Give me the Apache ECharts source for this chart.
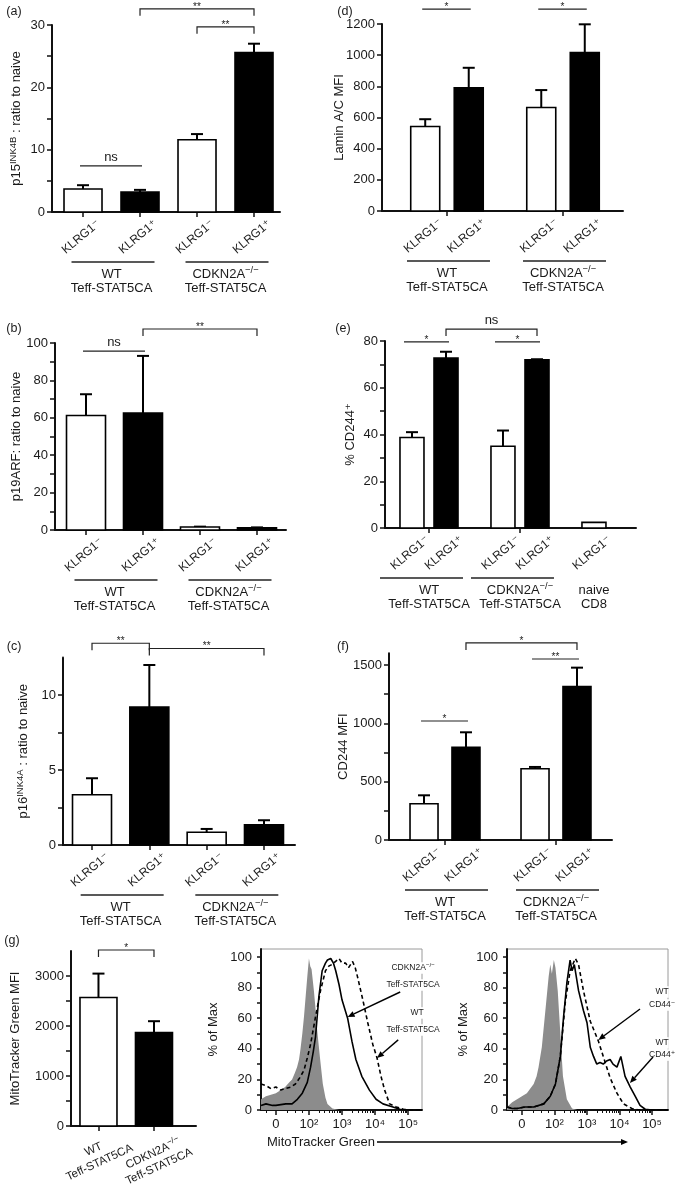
<!DOCTYPE html>
<html><head><meta charset="utf-8">
<script src="https://cdn.jsdelivr.net/npm/echarts@6/dist/echarts.min.js"></script>
<style>html,body{margin:0;padding:0;background:#fff}#c{width:681px;height:1197px}</style>
</head><body><div id="c"></div><script>
const FONT = '"Liberation Sans", Arial, "DejaVu Sans", sans-serif';
const INK = '#1a1a1a';

// ---------------- data ----------------
const klrgLabels = ['KLRG1⁻', 'KLRG1⁺'];
const wtLabel = 'WT';
const cdknLabel = '{t|CDKN2A}{s|−/−}';
const strainLabel = 'Teff-STAT5CA';
const naiveLabels = ['naive', 'CD8'];

const p15Mean = [3.7, 3.2, 11.6, 25.6];
const p15Err  = [0.6, 0.35, 0.9, 1.4];
const p19Mean = [61.2, 62.6, 1.6, 1.2];
const p19Err  = [11.4, 30.5, 0.2, 0.2];
const p16Mean = [3.35, 9.2, 0.85, 1.35];
const p16Err  = [1.1, 2.8, 0.22, 0.3];
const laminMean = [542, 791, 664, 1016];
const laminErr  = [47, 128, 112, 182];
const cd244PctMean = [38.7, 72.7, 35.0, 72.0, 2.4];
const cd244PctErr  = [2.3, 2.7, 6.7, 0.2, 0];
const cd244MfiMean = [311, 794, 611, 1314];
const cd244MfiErr  = [72, 129, 15, 163];
const mitoMean = [2569, 1870];
const mitoErr  = [479, 226];

const ticksP15 = [0, 10, 20, 30];
const ticksP19 = [0, 20, 40, 60, 80, 100];
const ticksP16 = [0, 5, 10];
const ticksLamin = [0, 200, 400, 600, 800, 1000, 1200];
const ticksPct = [0, 20, 40, 60, 80];
const ticksMfi = [0, 500, 1000, 1500];
const ticksMito = [0, 1000, 2000, 3000];
const histYTicks = [0, 20, 40, 60, 80, 100];
const histXTickLabels = ['0', '10²', '10³', '10⁴', '10⁵'];

// significance annotations: bar indices, height in data units, label, with/without legs
const sigP15 = [{from:0,to:1,y:7.4,text:'ns',legs:false},{from:2,to:3,y:29.7,text:'**',legs:true},{from:1,to:3,y:32.6,text:'**',legs:true}];
const sigP19 = [{from:0,to:1,y:95.7,text:'ns',legs:false},{from:1,to:3,y:107.5,text:'**',legs:true}];
const sigP16 = [{from:0,to:1,y:13.45,text:'**',legs:true},{from:1,to:3,y:13.1,text:'**',legs:true}];
const sigLamin = [{from:0,to:1,y:1296,text:'*',legs:false},{from:2,to:3,y:1296,text:'*',legs:false}];
const sigPct = [{from:0,to:1,y:79.6,text:'*',legs:false},{from:2,to:3,y:79.6,text:'*',legs:false},{from:1,to:3,y:85.1,text:'ns',legs:true}];
const sigMfi = [{from:0,to:1,y:1020,text:'*',legs:false},{from:2,to:3,y:1551,text:'**',legs:false},{from:1,to:3,y:1689,text:'*',legs:true}];
const sigMito = [{from:0,to:1,y:3520,text:'*',legs:true}];

// flow histograms (x in display decades: 0 -> "0", 1 -> 10^2, 2 -> 10^3 ...; y = % of max)
const h1Control = [[-0.45,7],[-0.3,9],[-0.15,10],[0,11],[0.15,13],[0.28,15],[0.4,18],[0.49,20],[0.57,24],[0.64,28],[0.7,33],[0.74,39],[0.8,50],[0.85,61],[0.9,74],[0.95,87],[1.0,99],[1.04,94],[1.08,92],[1.15,78],[1.2,66],[1.25,52],[1.33,35],[1.42,17],[1.5,8],[1.56,4],[1.71,1],[1.91,0],[4.42,0]];
const h1Cdkn = [[-0.45,3],[-0.3,4],[-0.1,3],[0,3],[0.3,4],[0.49,4],[0.65,7],[0.8,11],[0.95,18],[1.05,28],[1.13,38],[1.2,48],[1.3,74],[1.4,91],[1.5,96],[1.56,98],[1.66,99],[1.74,96],[1.81,91],[1.91,82],[2.0,72],[2.17,60],[2.3,45],[2.42,33],[2.6,22],[2.83,13],[3.03,7],[3.24,4],[3.54,2],[3.75,0.5],[4.0,0],[4.42,0]];
const h1Wt = [[-0.45,17],[-0.3,16],[-0.15,14],[0,15],[0.15,13],[0.28,14],[0.45,15],[0.59,17],[0.72,21],[0.85,26],[0.95,34],[1.05,43],[1.2,61],[1.35,78],[1.5,91],[1.6,94],[1.69,95],[1.8,97],[1.91,99],[2.0,96],[2.11,96],[2.2,93],[2.32,97],[2.4,93],[2.47,87],[2.63,72],[2.78,57],[2.93,43],[3.06,34],[3.18,22],[3.29,13],[3.44,4],[3.64,2],[3.85,0.5],[4.1,0],[4.42,0]];
const h2Control = [[-0.46,2],[-0.3,5],[-0.15,7],[0,9],[0.15,11],[0.36,17],[0.45,22],[0.51,28],[0.61,41],[0.72,65],[0.82,87],[0.87,95],[0.92,89],[0.98,98],[1.03,93],[1.1,78],[1.18,50],[1.26,22],[1.38,7],[1.54,1],[1.7,0],[4.49,0]];
const h2Cd44Pos = [[-0.46,2],[-0.3,1],[-0.15,1],[0.1,2],[0.36,2],[0.67,4],[0.87,9],[1.03,17],[1.18,35],[1.28,61],[1.38,83],[1.48,98],[1.54,91],[1.61,95],[1.74,78],[1.89,65],[2.0,57],[2.1,41],[2.2,35],[2.3,30],[2.4,31],[2.5,30],[2.6,32],[2.71,33],[2.8,30],[2.92,28],[3.04,35],[3.17,22],[3.33,15],[3.48,9],[3.63,3],[3.79,0.5],[4.0,0],[4.49,0]];
const h2Cd44Neg = [[-0.46,2],[-0.3,1],[-0.15,1],[0.1,2],[0.36,2],[0.67,4],[0.87,9],[1.03,17],[1.18,35],[1.33,70],[1.48,91],[1.64,99],[1.74,95],[1.89,78],[2.1,58],[2.35,45],[2.5,35],[2.71,21],[2.92,11],[3.12,4],[3.38,1],[3.6,0],[4.49,0]];

// ---------------- layout ----------------
const flatGroups = [{bars:[0,1], text:[wtLabel, strainLabel]}, {bars:[2,3], text:[cdknLabel, strainLabel]}];
const pctGroups = [{bars:[0,1], text:[wtLabel, strainLabel]}, {bars:[2,3], text:[cdknLabel, strainLabel]}, {bars:[4], text:naiveLabels, line:false}];

const panels = [
  {letter:'(a)', lp:[14,12], rect:[52,25,228,187], x:[-0.544,3.456], yMax:30, ticks:ticksP15, minor:true, mean:p15Mean, err:p15Err, grouped:false, bw:38,
   name:'{t|p15}{s|INK4B}{t| : ratio to naive}', nameCenter:18, sig:sigP15, groups:flatGroups},
  {letter:'(b)', lp:[14,329], rect:[55,343,231,187], x:[-0.544,3.509], yMax:100, ticks:ticksP19, minor:true, mean:p19Mean, err:p19Err, grouped:false, bw:39,
   name:'p19ARF: ratio to naive', nameCenter:16, sig:sigP19, groups:flatGroups},
  {letter:'(c)', lp:[14,647], rect:[63,657.5,232,187.5], x:[-0.506,3.541], yMax:12.5, ticks:ticksP16, minor:true, mean:p16Mean, err:p16Err, grouped:false, bw:39,
   name:'{t|p16}{s|INK4A}{t| : ratio to naive}', nameCenter:25, sig:sigP16, groups:flatGroups},
  {letter:'(d)', lp:[345,12], rect:[382,24,241,187], x:[-0.560,1.517], yMax:1200, ticks:ticksLamin, minor:false, mean:laminMean, err:laminErr, grouped:true, off:0.1875, bw:29,
   name:'Lamin A/C MFI', nameCenter:339, sig:sigLamin, groups:flatGroups},
  {letter:'(e)', lp:[343,329], rect:[385,341,251,187], x:[-0.4835,2.275], yMax:80, ticks:ticksPct, minor:true, mean:cd244PctMean, err:cd244PctErr, grouped:true, off:0.187, bw:24,
   name:'% CD244⁺', nameCenter:350, sig:sigPct, groups:pctGroups, lineOff:[-49,34], sigPad:[8,3]},
  {letter:'(f)', lp:[343,647], rect:[389,653.3,223,186.7], x:[-0.5045,1.5045], yMax:1600, ticks:ticksMfi, minor:true, mean:cd244MfiMean, err:cd244MfiErr, grouped:true, off:0.189, bw:28,
   name:'CD244 MFI', nameCenter:343, sig:sigMfi, groups:flatGroups},
  {letter:'(g)', lp:[12,941], rect:[71,951,125,175], x:[-0.495,1.757], yMax:3500, ticks:ticksMito, minor:true, mean:mitoMean, err:mitoErr, grouped:false, bw:37,
   name:'MitoTracker Green MFI', nameCenter:15, sig:sigMito, groups:[], mitoLabels:[[wtLabel, strainLabel],[cdknLabel, strainLabel]]}
];

const hists = [
  {rect:[261,949,161,161], x:[-0.45,4.42], control:h1Control, solid:h1Cdkn, dashed:h1Wt, nameCenter:213,
   notes:[{at:[4.15,92.8], text:cdknLabel},{at:[4.15,81.7], text:strainLabel},{at:[4.27,63.4], text:wtLabel},{at:[4.15,52.3], text:strainLabel}],
   arrows:[[[3.76,77.1],[2.17,60.8]],[[3.70,45.8],[3.06,34.0]]]},
  {rect:[507,949,161,161], x:[-0.46,4.49], control:h2Control, solid:h2Cd44Pos, dashed:h2Cd44Neg, nameCenter:463,
   notes:[{at:[4.31,77.1], text:'WT'},{at:[4.31,68.6], text:'CD44⁻'},{at:[4.31,43.8], text:'WT'},{at:[4.31,35.9], text:'CD44⁺'}],
   arrows:[[[3.63,66.0],[2.35,45.8]],[[4.03,34.6],[3.32,17.6]]]}
];

// ---------------- build option ----------------
const richBase = {
  t:{fontSize:13, fontFamily:FONT, color:INK, lineHeight:16},
  s:{fontSize:9.5, fontFamily:FONT, color:INK, lineHeight:9, verticalAlign:'top'}
};
const axisLineStyle = {color:'#111', width:2};
const plain = v => String(v);
const grids = [], xAxes = [], yAxes = [], series = [];

function barRenderer(bw){
  return function(params, api){
    const x = api.value(0), m = api.value(1), e = api.value(2), c = api.value(3);
    const b = api.coord([x, 0]), t = api.coord([x, m]);
    const children = [];
    if (e > 0){
      const et = api.coord([x, m + e]);
      children.push({type:'line', shape:{x1:t[0], y1:t[1], x2:et[0], y2:et[1]}, style:{stroke:'#000', lineWidth:2}});
      children.push({type:'line', shape:{x1:et[0]-6, y1:et[1], x2:et[0]+6, y2:et[1]}, style:{stroke:'#000', lineWidth:2}});
    }
    children.push({type:'rect', shape:{x:b[0]-bw/2, y:t[1], width:bw, height:b[1]-t[1]},
      style:{fill: c ? '#000' : '#fff', stroke:'#000', lineWidth:1.6}});
    return {type:'group', children};
  };
}

panels.forEach(p => {
  const gi = grids.length;
  p.gi = gi;
  grids.push({left:p.rect[0], top:p.rect[1], width:p.rect[2], height:p.rect[3], outerBoundsMode:'none'});
  p.pos = p.mean.map((_, i) => p.grouped ? Math.floor(i/2) + (i % 2 ? p.off : -p.off) : i);
  const xt = p.grouped ? [0, 1] : p.pos.slice();
  const step = p.ticks[1] - p.ticks[0];
  const minorT = p.minor ? p.ticks.map(v => v + step/2).filter(v => v < p.yMax - 1e-9) : [];
  p.xi = xAxes.length; p.yi = yAxes.length;
  xAxes.push({gridIndex:gi, type:'value', min:p.x[0], max:p.x[1], position:'bottom',
    axisLine:{show:true, onZero:false, lineStyle:axisLineStyle},
    axisTick:{show:true, customValues:xt, length:5, lineStyle:{color:'#111', width:1.5}},
    axisLabel:{show:false}, splitLine:{show:false}});
  yAxes.push({gridIndex:gi, type:'value', min:0, max:p.yMax, position:'left',
    axisLine:{show:true, onZero:false, lineStyle:axisLineStyle},
    axisTick:{show:true, customValues:p.ticks.concat(minorT), length:5, lineStyle:{color:'#111', width:1.5}},
    axisLabel:{customValues:p.ticks, formatter:plain, fontSize:13, color:INK, fontFamily:FONT, margin:7},
    splitLine:{show:false},
    name:p.name, nameLocation:'middle', nameRotate:90, nameGap:p.rect[0] - p.nameCenter - 6.5, nameMoveOverlap:false,
    nameTextStyle:{fontSize:13, color:INK, fontFamily:FONT, rich:richBase}});
  series.push({type:'custom', xAxisIndex:p.xi, yAxisIndex:p.yi, silent:true, clip:false,
    data:p.pos.map((x, i) => [x, p.mean[i], p.err[i], i % 2]),
    encode:{x:0, y:1}, renderItem:barRenderer(p.bw)});
});

const minorLog = [];
for (let d = 1; d <= 3; d++) for (let k = 2; k <= 9; k++) minorLog.push(d + Math.log10(k));
minorLog.push(-0.3, 0.35, 0.6, 0.8);

hists.forEach(h => {
  const gi = grids.length;
  h.gi = gi;
  grids.push({left:h.rect[0], top:h.rect[1], width:h.rect[2], height:h.rect[3], show:true,
    borderColor:'#9a9a9a', borderWidth:1, backgroundColor:'transparent', outerBoundsMode:'none'});
  h.xi = xAxes.length;
  xAxes.push({gridIndex:gi, type:'value', min:h.x[0], max:h.x[1], position:'bottom',
    axisLine:{show:true, onZero:false, lineStyle:axisLineStyle},
    axisTick:{show:true, customValues:[0,1,2,3,4], length:5, lineStyle:{color:'#111', width:1.5}},
    axisLabel:{customValues:[0,1,2,3,4], formatter:v => histXTickLabels[Math.round(v)], fontSize:13, color:INK, fontFamily:FONT, margin:8},
    splitLine:{show:false}});
  xAxes.push({gridIndex:gi, type:'value', min:h.x[0], max:h.x[1], position:'bottom', offset:0,
    axisLine:{show:false, onZero:false},
    axisTick:{show:true, customValues:minorLog, length:3, lineStyle:{color:'#111', width:1}},
    axisLabel:{show:false}, splitLine:{show:false}});
  h.yi = yAxes.length;
  yAxes.push({gridIndex:gi, type:'value', min:0, max:105.2, position:'left',
    axisLine:{show:true, onZero:false, lineStyle:axisLineStyle},
    axisTick:{show:true, customValues:[0,10,20,30,40,50,60,70,80,90,100], length:4, lineStyle:{color:'#111', width:1.5}},
    axisLabel:{customValues:histYTicks, formatter:plain, fontSize:13, color:INK, fontFamily:FONT, margin:9},
    splitLine:{show:false},
    name:'% of Max', nameLocation:'middle', nameRotate:90, nameGap:h.rect[0] - h.nameCenter - 6.5, nameMoveOverlap:false,
    nameTextStyle:{fontSize:13, color:INK, fontFamily:FONT}});
  series.push({type:'line', xAxisIndex:h.xi, yAxisIndex:h.yi, data:h.control, symbol:'none', silent:true, z:1,
    lineStyle:{width:0}, areaStyle:{color:'#8c8c8c', opacity:1}});
  series.push({type:'line', xAxisIndex:h.xi, yAxisIndex:h.yi, data:h.dashed, symbol:'none', silent:true, z:3,
    lineStyle:{color:'#000', width:1.6, type:[4,3]}});
  series.push({type:'line', xAxisIndex:h.xi, yAxisIndex:h.yi, data:h.solid, symbol:'none', silent:true, z:4,
    lineStyle:{color:'#000', width:1.6}});
});

const chart = echarts.init(document.getElementById('c'));
chart.setOption({
  animation:false,
  backgroundColor:'#fff',
  textStyle:{fontFamily:FONT},
  grid:grids, xAxis:xAxes, yAxis:yAxes, series:series
});

// ---------------- annotations (positions via the axes' own scales) ----------------
const G = [];
const deg = Math.PI / 180;
function txt(x, y, text, size, opts){
  opts = opts || {};
  G.push({type:'text', x:x, y:y, rotation:opts.rot || 0, silent:true, z:50,
    style:{text:text, fontSize:size, fontFamily:FONT, fill:opts.color || INK,
      align:opts.align || 'center', verticalAlign:opts.va || 'middle',
      backgroundColor:opts.bg, rich:{
        t:{fontSize:size, fontFamily:FONT, fill:opts.color || INK, lineHeight:size + 3},
        s:{fontSize:size * 0.72, fontFamily:FONT, fill:opts.color || INK, lineHeight:size * 0.7, verticalAlign:'top'}}}});
}
function seg(x1, y1, x2, y2, w, color){
  G.push({type:'line', silent:true, z:50, shape:{x1, y1, x2, y2}, style:{stroke:color || '#111', lineWidth:w || 1.2}});
}
function arrow(x1, y1, x2, y2){
  const a = Math.atan2(y2 - y1, x2 - x1), head = 7;
  const hx = x2 - head * Math.cos(a), hy = y2 - head * Math.sin(a);
  const nx = -Math.sin(a) * 3, ny = Math.cos(a) * 3;
  seg(x1, y1, hx, hy, 1.4, '#000');
  G.push({type:'polygon', silent:true, z:50, shape:{points:[[x2,y2],[hx+nx,hy+ny],[hx-nx,hy-ny]]}, style:{fill:'#000'}});
}

panels.forEach(p => {
  const px = (x, y) => chart.convertToPixel({xAxisIndex:p.xi, yAxisIndex:p.yi}, [x, y]);
  const axisY = px(0, 0)[1];
  txt(p.lp[0], p.lp[1], p.letter, 12.5);
  // bar labels
  if (p.mitoLabels){
    p.pos.forEach((x, i) => {
      const bx = px(x, 0)[0];
      const L = p.mitoLabels[i];
      txt(bx - 2 + i * 4, axisY + 30 + i * 4, (L[0].indexOf('{') >= 0 ? L[0] : '{t|' + L[0] + '}') + '\n{t|' + L[1] + '}', 11.5, {rot:25 * deg});
    });
  } else {
    p.pos.forEach((x, i) => {
      const bx = px(x, 0)[0];
      txt(bx - 2, axisY + 25, klrgLabels[i % 2], 12, {rot:40 * deg});
    });
  }
  // group lines & labels
  p.groups.forEach(g => {
    const c = g.bars.reduce((s, i) => s + p.pos[i], 0) / g.bars.length;
    const cx = px(c, 0)[0];
    const lo = p.lineOff || [-40, 43];
    if (g.line !== false) seg(cx + lo[0], axisY + 50, cx + lo[1], axisY + 50, 1.3, '#222');
    g.text.forEach((t, k) => txt(cx, axisY + 62 + k * 14.5, t.indexOf('{') >= 0 ? t : '{t|' + t + '}', 13));
  });
  // significance
  const pad = p.sigPad || [3, 2];
  p.sig.forEach(s => {
    const a = px(p.pos[s.from], s.y), b = px(p.pos[s.to], s.y);
    let x1 = a[0], x2 = b[0];
    const yT = a[1];
    if (s.legs){
      G.push({type:'polyline', silent:true, z:50, shape:{points:[[x1, yT + 7],[x1, yT],[x2, yT],[x2, yT + 7]]}, style:{stroke:'#222', lineWidth:1.2, fill:null}});
    } else {
      x1 -= pad[0]; x2 += pad[1];
      seg(x1, yT, x2, yT, 1.2, '#222');
    }
    if (s.text === 'ns') txt((x1 + x2) / 2, yT - 2, 'ns', 13, {va:'bottom'});
    else txt((x1 + x2) / 2, yT - 2, s.text, 10);
  });
});

hists.forEach(h => {
  const px = (x, y) => chart.convertToPixel({xAxisIndex:h.xi, yAxisIndex:h.yi}, [x, y]);
  h.notes.forEach(n => {
    const q = px(n.at[0], n.at[1]);
    txt(q[0], q[1], n.text.indexOf('{') >= 0 ? n.text : '{t|' + n.text + '}', 8.5, {bg:'#fff'});
  });
  h.arrows.forEach(ar => {
    const a = px(ar[0][0], ar[0][1]), b = px(ar[1][0], ar[1][1]);
    arrow(a[0], a[1], b[0], b[1]);
  });
});

// shared x-axis title with long arrow
(function(){
  const h1 = hists[0], h2 = hists[1];
  const y = h1.rect[1] + h1.rect[3] + 32;
  txt(h1.rect[0] + 6, y, 'MitoTracker Green', 13, {align:'left'});
  arrow(h1.rect[0] + 116, y, h2.rect[0] + 121, y);
})();

chart.setOption({graphic:G});
</script></body></html>
